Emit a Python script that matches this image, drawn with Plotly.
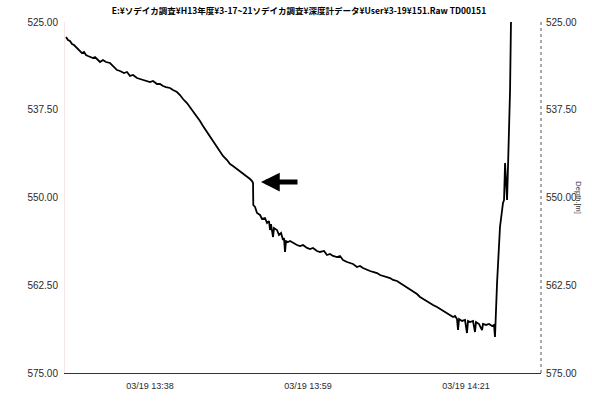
import datetime as dt
import plotly.graph_objects as go

# Depth logger record TD00151, 2001-03-19
# elapsed minutes after 13:00 and depth in metres
minutes = [
    26.57, 26.84, 27.11, 27.39, 27.66, 27.93, 28.20, 28.48, 28.75, 29.02,
    29.29, 29.56, 29.84, 30.24, 30.52, 30.79, 31.20, 31.60, 32.01, 32.56,
    32.97, 33.51, 33.92, 34.46, 34.87, 35.28, 35.69, 36.23, 36.64, 37.05,
    37.59, 38.00, 38.41, 38.95, 39.36, 39.77, 40.18, 40.72, 41.13, 41.67,
    42.08, 42.49, 43.03, 43.44, 43.85, 44.40, 44.80, 45.21, 45.76, 46.16,
    46.57, 47.12, 47.52, 47.93, 48.48, 48.89, 49.29, 49.84, 50.25, 50.65,
    51.20, 51.61, 51.88, 52.02, 52.05, 52.29, 52.56, 52.97, 53.24, 53.65,
    53.92, 54.19, 54.33, 54.46, 54.74, 54.87, 55.28, 55.55, 55.83, 56.10,
    56.23, 56.37, 56.51, 56.78, 57.05, 57.46, 58.00, 58.41, 58.82, 59.36,
    59.77, 60.18, 60.72, 61.13, 61.68, 62.08, 62.49, 62.90, 63.45, 63.85,
    64.26, 64.81, 65.21, 65.62, 66.17, 66.57, 66.98, 67.53, 67.94, 68.34,
    68.89, 69.30, 69.70, 70.25, 70.66, 71.07, 71.61, 72.02, 72.43, 72.97,
    73.38, 73.79, 74.33, 74.74, 75.15, 75.69, 76.10, 76.51, 77.05, 77.46,
    77.87, 78.41, 78.82, 79.23, 79.50, 79.77, 79.91, 80.05, 80.45, 80.86,
    81.13, 81.27, 81.54, 81.95, 82.22, 82.36, 82.77, 83.18, 83.31, 83.72,
    84.13, 84.54, 84.81, 84.94, 85.22, 85.62, 86.03, 86.17, 86.31, 86.58,
    86.71, 86.85, 86.99, 87.12,
]
depth_m = [
    527.14, 527.56, 527.71, 528.13, 528.28, 528.56, 528.85, 529.13, 529.42, 529.27,
    529.70, 529.84, 529.99, 530.13, 529.99, 530.27, 530.70, 530.41, 530.70, 530.84,
    531.27, 531.84, 531.98, 532.27, 532.12, 532.69, 532.55, 532.98, 533.12, 533.26,
    533.40, 533.55, 533.40, 533.83, 533.83, 534.12, 534.26, 534.40, 534.69, 534.97,
    535.40, 535.97, 536.54, 537.11, 537.68, 538.39, 539.10, 539.81, 540.67, 541.38,
    541.95, 542.95, 543.52, 544.09, 544.66, 545.23, 545.51, 545.94, 546.23, 546.51,
    546.94, 547.37, 547.65, 547.93, 551.07, 551.35, 552.21, 552.49, 553.06, 552.92,
    553.63, 553.35, 554.63, 553.78, 555.63, 554.35, 554.63, 555.34, 555.06, 556.05,
    555.77, 557.76, 556.20, 556.34, 556.20, 556.48, 556.77, 556.91, 556.77, 557.19,
    557.34, 557.19, 557.62, 557.76, 557.62, 558.19, 558.05, 558.33, 558.48, 558.33,
    558.90, 559.19, 559.33, 559.47, 559.90, 559.76, 560.04, 560.33, 560.47, 560.61,
    560.76, 561.04, 561.18, 561.32, 561.47, 561.75, 561.89, 562.18, 562.46, 562.75,
    563.03, 563.32, 563.75, 564.17, 564.46, 564.74, 565.03, 565.31, 565.60, 565.88,
    566.17, 566.45, 566.74, 567.02, 566.88, 567.31, 568.88, 567.31, 567.59, 567.45,
    569.30, 567.59, 567.74, 567.59, 569.16, 567.74, 568.02, 568.88, 568.02, 568.16,
    568.02, 568.31, 568.16, 569.87, 562.18, 554.20, 550.78, 550.36, 545.09, 550.36,
    545.66, 540.81, 534.69, 524.72,
]

# axis settings
x_start = "2001-03-19 13:26:26"
x_end = "2001-03-19 14:31:12"
x_ticks = ["2001-03-19 13:38:00", "2001-03-19 13:59:30", "2001-03-19 14:21:00"]
y_ticks = [525.0, 537.5, 550.0, 562.5, 575.0]
marker_time = "2001-03-19 13:53:06"
marker_depth = 547.8

title_text = "E:¥ソデイカ調査¥H13年度¥3-17~21ソデイカ調査¥深度計データ¥User¥3-19¥151.Raw TD00151"

base = dt.datetime(2001, 3, 19, 13, 0, 0)
times = [base + dt.timedelta(minutes=m) for m in minutes]

fig = go.Figure()
fig.add_trace(go.Scatter(
    x=times, y=depth_m, mode="lines",
    line=dict(color="black", width=1.8),
    showlegend=False, hoverinfo="skip",
))
# invisible copy on the right-hand axis so it gets its own labels
fig.add_trace(go.Scatter(
    x=times, y=depth_m, mode="lines", yaxis="y2",
    line=dict(color="rgba(0,0,0,0)", width=0),
    showlegend=False, hoverinfo="skip",
))

tick_font = dict(family="Liberation Sans, Arial, sans-serif", size=10, color="#2a2a2a")

fig.update_layout(
    width=592, height=408,
    margin=dict(l=65, r=51, t=22, b=35),
    paper_bgcolor="white", plot_bgcolor="white",
    title=dict(
        text=title_text, x=0.505, xanchor="center", y=0.972, yanchor="middle",
        font=dict(family="Noto Sans CJK JP", size=8.5, color="black", weight="bold"),
    ),
    xaxis=dict(
        type="date", range=[x_start, x_end],
        tickvals=x_ticks, tickformat="%m/%d %H:%M",
        tickfont=dict(family="Liberation Sans, Arial, sans-serif", size=9, color="#2a2a2a"),
        showgrid=False, zeroline=False,
        showline=True, linecolor="#333333", linewidth=1,
        ticks="", ticklabelstandoff=4,
    ),
    yaxis=dict(
        range=[575, 525], tickvals=y_ticks, tickformat=".2f",
        tickfont=tick_font, showgrid=False, zeroline=False,
        showline=True, linecolor="#f6e6e6", linewidth=1,
        ticks="", ticklabelstandoff=4,
    ),
    yaxis2=dict(
        range=[575, 525], tickvals=y_ticks, tickformat=".2f",
        tickfont=tick_font, overlaying="y", side="right",
        showgrid=False, zeroline=False, showline=False,
        ticks="", ticklabelstandoff=4,
    ),
    shapes=[
        dict(type="line", xref="paper", yref="paper", x0=1, x1=1, y0=0, y1=1,
             line=dict(color="#555555", width=1, dash="dot")),
    ],
    annotations=[
        dict(x=marker_time, y=marker_depth, xref="x", yref="y",
             ax=38, ay=0, axref="pixel", ayref="pixel",
             text="", showarrow=True, arrowhead=2, arrowsize=0.75,
             arrowwidth=5, arrowcolor="black", standoff=0),
        dict(text="Depth.[m]", xref="paper", yref="paper", x=1.078, y=0.5,
             xanchor="center", yanchor="middle", showarrow=False, textangle=90,
             font=dict(family="Liberation Sans, Arial, sans-serif", size=7.5, color="#333333")),
    ],
)

fig.write_html("out.html")
